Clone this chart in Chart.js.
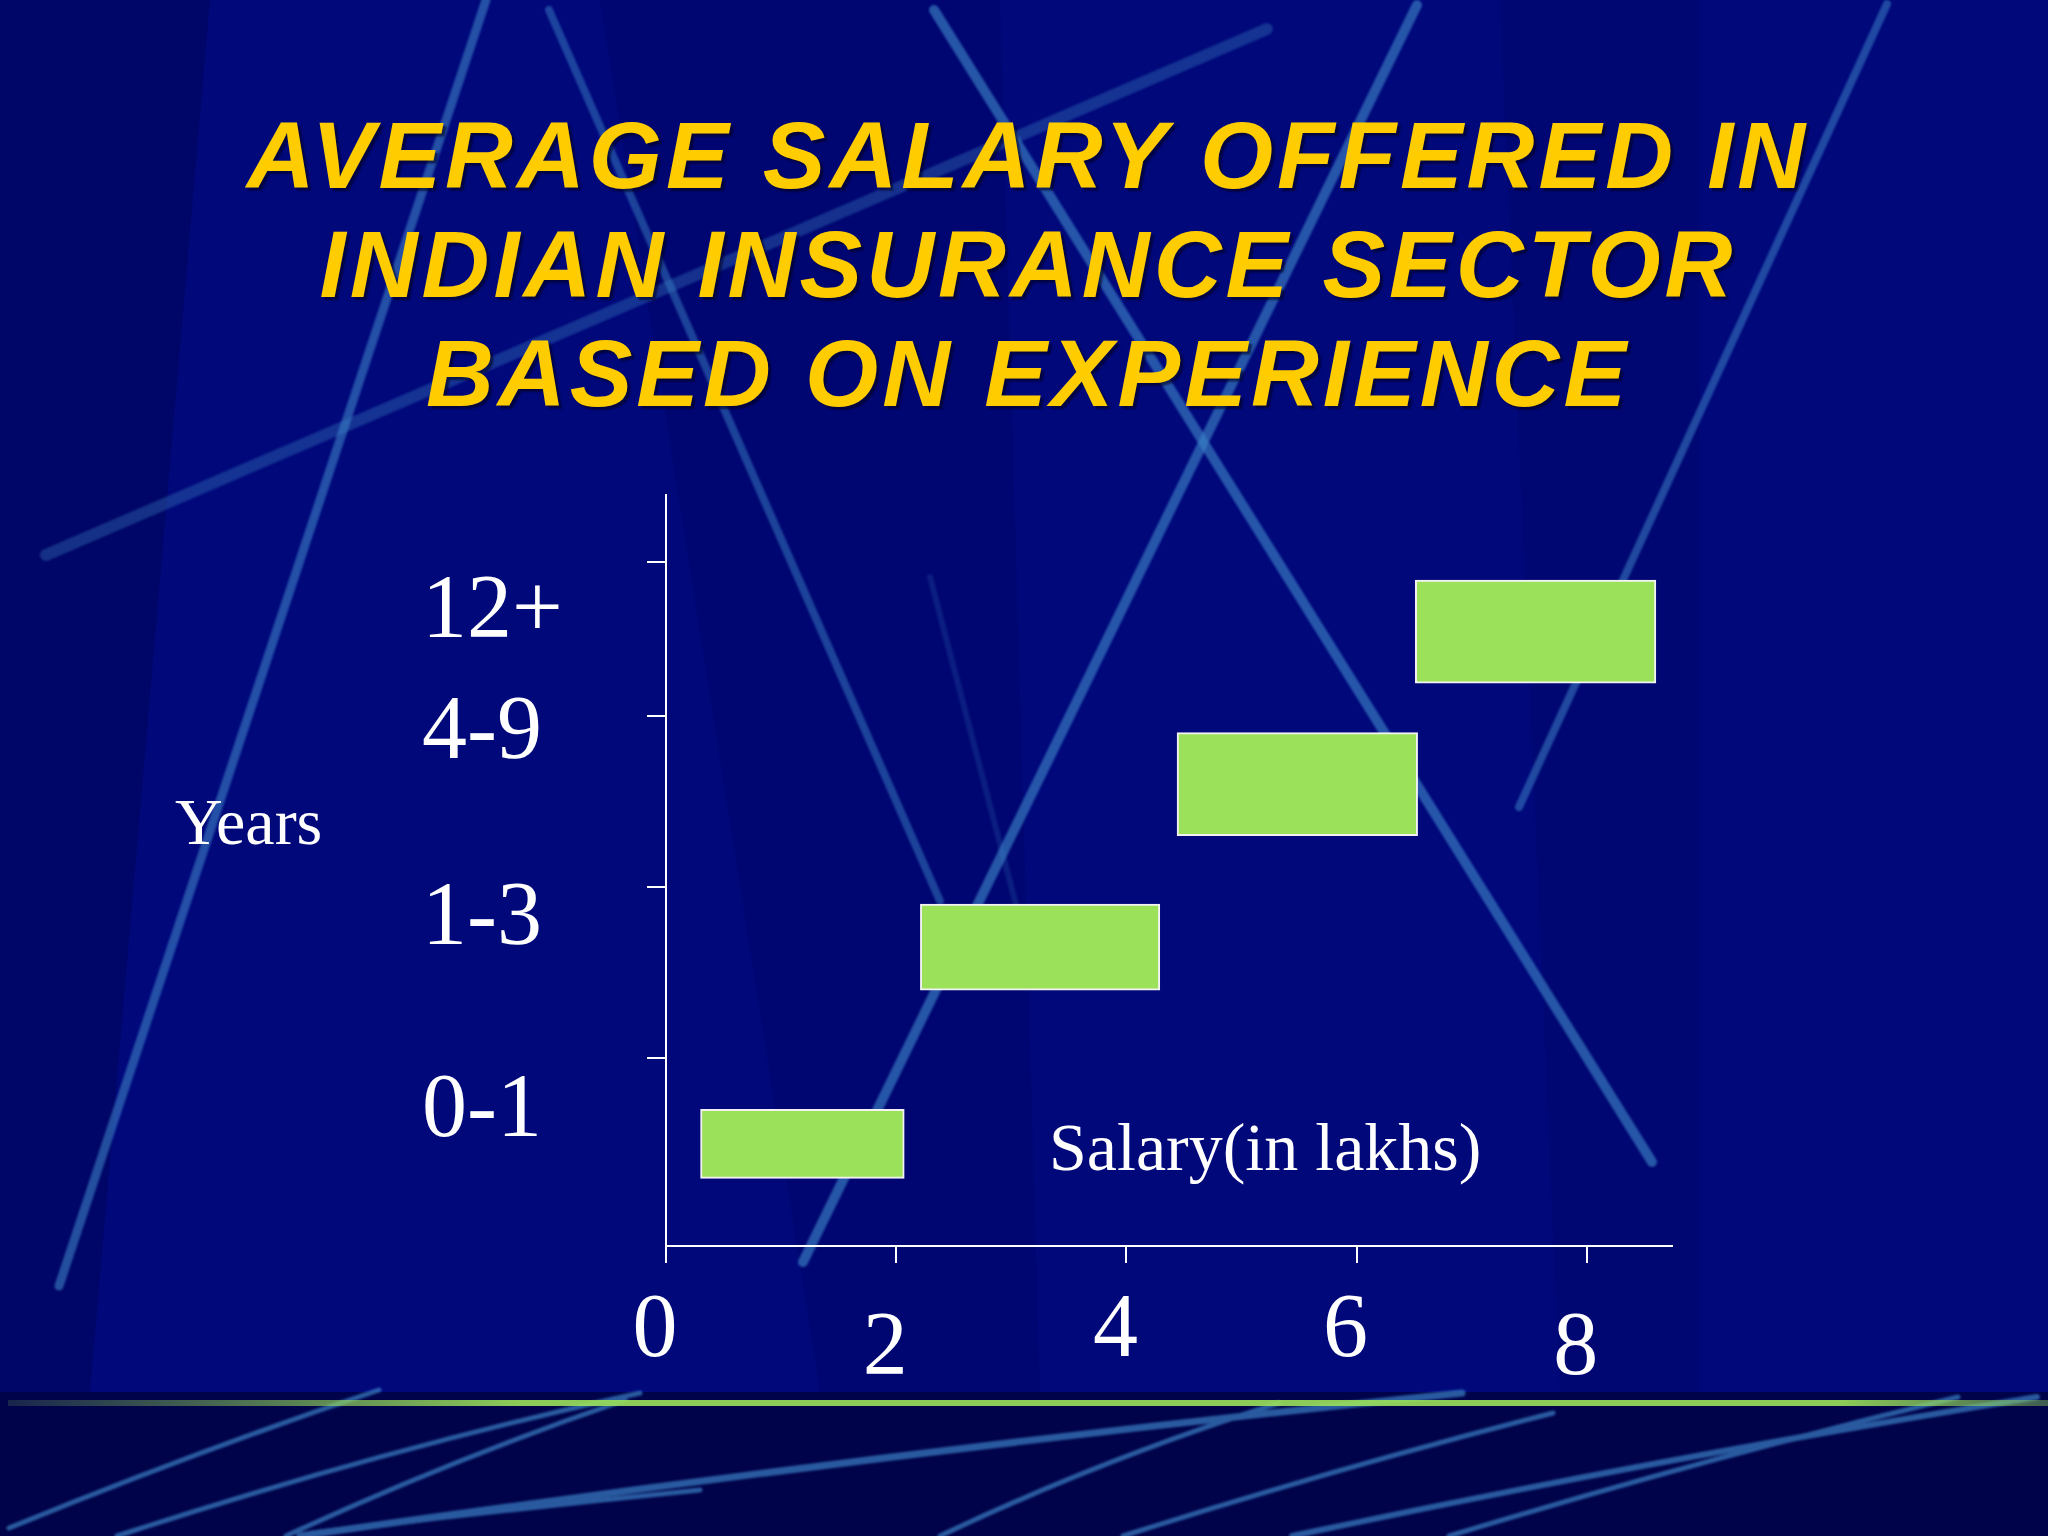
<!DOCTYPE html>
<html>
<head>
<meta charset="utf-8">
<script src="https://cdn.jsdelivr.net/npm/chart.js@4.4.1/dist/chart.umd.min.js"></script>
<style>
    html, body { margin: 0; padding: 0; background: #00087a; }
    #slide { position: relative; width: 2048px; height: 1536px; overflow: hidden; }
    #bg, #salaryChart { position: absolute; left: 0; top: 0; }
    #title {
        position: absolute; left: 4px; top: 101px; width: 2048px;
        text-align: center; color: #ffcc00;
        font: italic bold 94px "Liberation Sans", Arial, sans-serif;
        letter-spacing: 4px; line-height: 109px;
        text-shadow: 3px 3px 2px rgba(0, 0, 30, 0.6);
    }
    .axisText {
        position: absolute; color: #fff; line-height: 1; white-space: nowrap;
        font-family: "Liberation Serif", "Times New Roman", serif;
    }
</style>
</head>
<body>
<div id="slide">
    <svg id="bg" width="2048" height="1536" viewBox="0 0 2048 1536">
        <defs>
            <linearGradient id="greenLine" x1="0" x2="1" y1="0" y2="0">
                <stop offset="0" stop-color="#9be15a" stop-opacity="0.15"/>
                <stop offset="0.25" stop-color="#9be15a" stop-opacity="0.9"/>
                <stop offset="0.9" stop-color="#9be15a" stop-opacity="0.9"/>
                <stop offset="1" stop-color="#9be15a" stop-opacity="0.4"/>
            </linearGradient>
            <filter id="soft"><feGaussianBlur stdDeviation="1.2"/></filter>
        </defs>
        <rect width="2048" height="1536" fill="#00087a"/>
        <polygon points="0,0 210,0 90,1392 0,1392" fill="#000560" opacity="0.7"/>
        <polygon points="600,0 1000,0 1040,1392 820,1392" fill="#000565" opacity="0.45"/>
        <polygon points="1500,0 1700,0 1700,1392 1560,1392" fill="#000565" opacity="0.35"/>
        <g stroke="#3a80c4" fill="none" stroke-linecap="round" filter="url(#soft)">
            <line x1="46" y1="555" x2="1267" y2="29" stroke-width="12" opacity="0.35"/>
            <line x1="486" y1="0" x2="59" y2="1286" stroke-width="9" opacity="0.6"/>
            <line x1="549" y1="10" x2="940" y2="901" stroke-width="8" opacity="0.5"/>
            <line x1="934" y1="10" x2="1652" y2="1162" stroke-width="10" opacity="0.65"/>
            <line x1="1417" y1="5" x2="803" y2="1262" stroke-width="10" opacity="0.65"/>
            <line x1="1887" y1="4" x2="1519" y2="807" stroke-width="8" opacity="0.55"/>
            <line x1="930" y1="577" x2="1035" y2="977" stroke-width="6" opacity="0.2"/>
        </g>
        <rect y="1392" width="2048" height="144" fill="#01034a"/>
        <g stroke="#3a80c4" fill="none" stroke-linecap="round" opacity="0.7" filter="url(#soft)">
            <path d="M379 1390 Q200 1450 9 1528" stroke-width="5"/>
            <path d="M640 1393 Q380 1450 117 1536" stroke-width="5"/>
            <path d="M625 1400 Q450 1460 286 1536" stroke-width="5"/>
            <path d="M1462 1393 Q900 1450 300 1536" stroke-width="7"/>
            <path d="M1279 1403 Q1100 1460 940 1536" stroke-width="5"/>
            <path d="M1553 1413 Q1330 1470 1123 1536" stroke-width="5"/>
            <path d="M2037 1397 Q1650 1460 1292 1536" stroke-width="6"/>
            <path d="M1958 1397 Q1700 1460 1449 1536" stroke-width="5"/>
            <path d="M700 1490 Q500 1510 312 1533" stroke-width="5"/>
        </g>
        <rect x="8" y="1400" width="2040" height="6" fill="url(#greenLine)"/>
    </svg>

    <canvas id="salaryChart" width="2048" height="1536"></canvas>

    <div class="axisText" style="left:175px; top:789px; font-size:66px;">Years</div>
    <div class="axisText" style="left:1049px; top:1113px; font-size:68px;">Salary(in lakhs)</div>
    <div id="title">AVERAGE SALARY OFFERED IN<br>INDIAN INSURANCE SECTOR<br>BASED ON EXPERIENCE</div>
</div>

<script>
// Experience groups and the salary range (lakhs) drawn for each
const yearGroups = ['0-1', '1-3', '4-9', '12+'];
const salaryFrom = [0.30, 2.21, 4.44, 6.51];
const salaryTo = [2.07, 4.29, 6.53, 8.60];

const barRows = [1.36, 3.98, 6.15, 8.18];
const labelRows = [1.78, 4.33, 6.81, 8.42];
const rowTicks = [2.50, 4.78, 7.06, 9.11];
const salaryTicks = [0, 2, 4, 6, 8];

// styles
const barPx = [69, 86, 103, 103];
const loweredTicks = [2, 8];
const serif = '"Liberation Serif", "Times New Roman", serif';

document.addEventListener('DOMContentLoaded', () => {
    const ctx = document.getElementById('salaryChart').getContext('2d');
    new Chart(ctx, {
        type: 'bar',
        data: {
            datasets: yearGroups.map((g, i) => ({
                label: g,
                data: [{ x: [salaryFrom[i], salaryTo[i]], y: barRows[i] }],
                barThickness: barPx[i],
                grouped: false,
                backgroundColor: '#9be15a',
                borderColor: '#f2f2f2',
                borderWidth: 2,
                borderSkipped: false
            }))
        },
        options: {
            indexAxis: 'y',
            responsive: false,
            devicePixelRatio: 1,
            animation: false,
            layout: { padding: { left: 422, top: 495, right: 376, bottom: 0 } },
            plugins: {
                legend: { display: false },
                tooltip: { enabled: false }
            },
            scales: {
                x: {
                    type: 'linear',
                    min: 0,
                    max: 8.74,
                    afterBuildTicks: s => { s.ticks = salaryTicks.map(v => ({ value: v })); },
                    afterFit: s => { s.height = 290; },
                    grid: { drawOnChartArea: false, offset: false, color: '#fff', lineWidth: 2, tickLength: 17 },
                    border: { color: '#fff', width: 2 },
                    ticks: {
                        color: '#fff',
                        padding: 24,
                        labelOffset: -11,
                        autoSkip: false,
                        maxRotation: 0,
                        font: c => ({
                            family: serif,
                            size: 90,
                            lineHeight: (c.tick && loweredTicks.includes(c.tick.value)) ? 1.4 : 1.0
                        }),
                        callback: v => String(v)
                    }
                },
                y: {
                    type: 'linear',
                    position: 'left',
                    weight: 0,
                    min: 0,
                    max: 10,
                    offset: false,
                    afterBuildTicks: s => { s.ticks = rowTicks.map(v => ({ value: v })); },
                    afterFit: s => { s.width = 20; },
                    grid: { drawOnChartArea: false, offset: false, color: '#fff', lineWidth: 2, tickLength: 19 },
                    border: { color: '#fff', width: 2 },
                    ticks: { display: false }
                },
                yLabels: {
                    axis: 'y',
                    type: 'linear',
                    position: 'left',
                    weight: 1,
                    min: 0,
                    max: 10,
                    offset: false,
                    afterBuildTicks: s => { s.ticks = labelRows.map(v => ({ value: v })); },
                    afterFit: s => { s.width = 224; },
                    grid: { display: false },
                    border: { display: false },
                    ticks: {
                        color: '#fff',
                        crossAlign: 'far',
                        padding: 0,
                        autoSkip: false,
                        font: { family: serif, size: 90, lineHeight: 1.0 },
                        callback: (v, i) => yearGroups[i]
                    }
                }
            }
        }
    });
});
</script>
</body>
</html>
